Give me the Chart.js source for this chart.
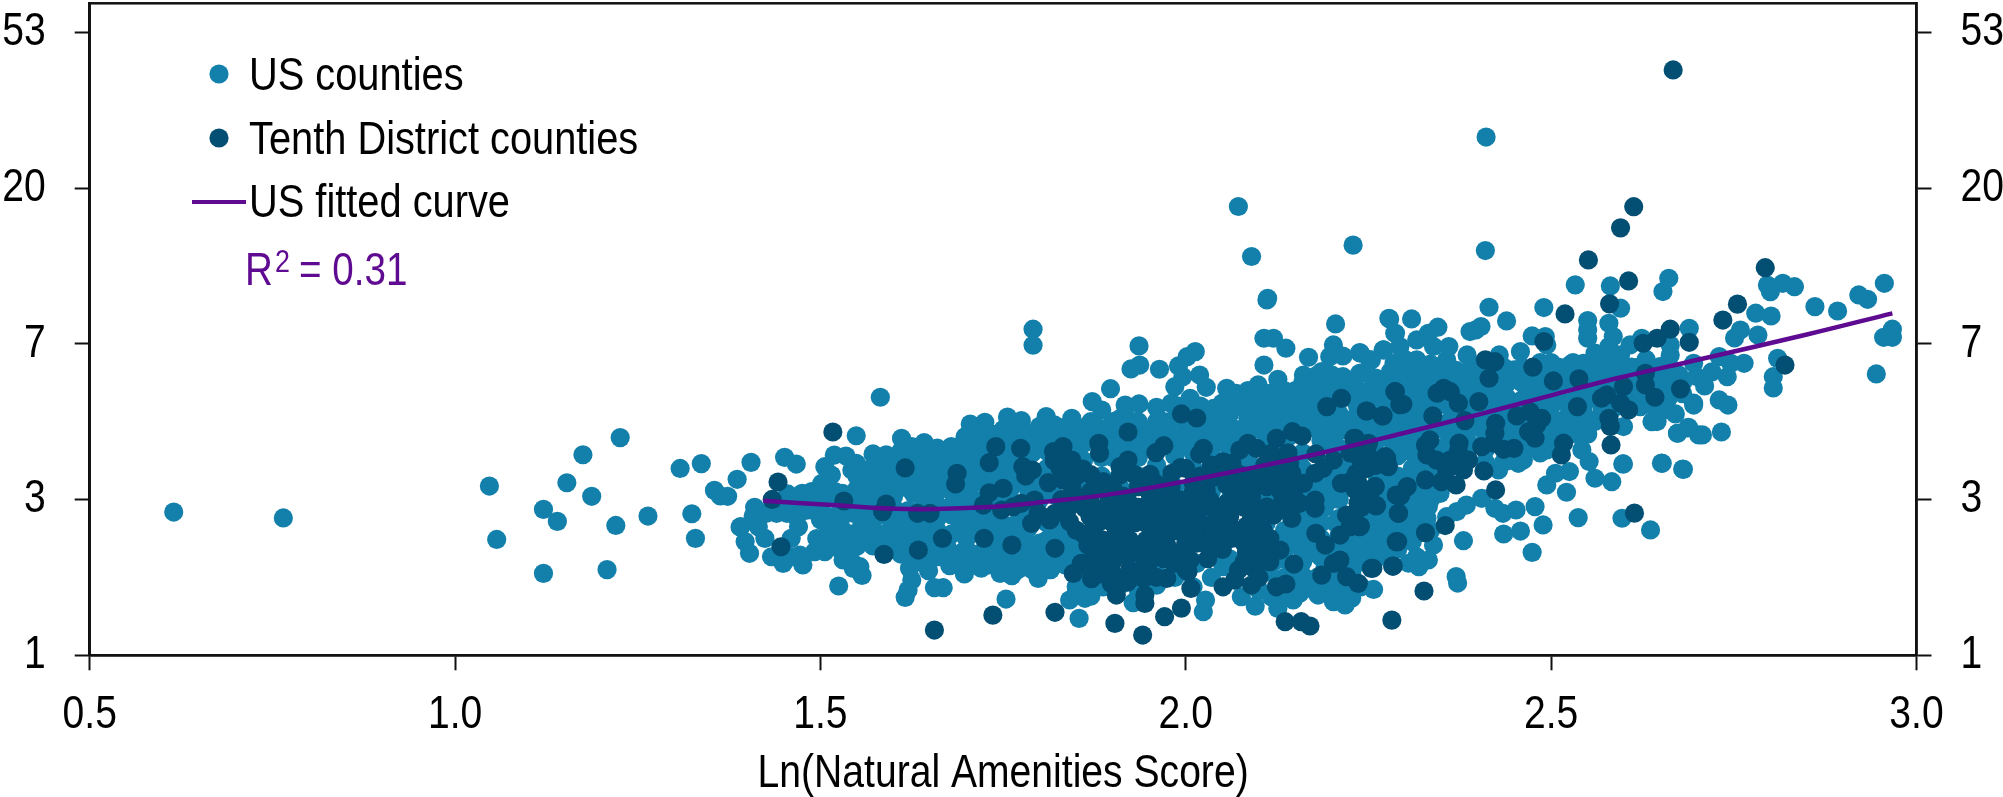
<!DOCTYPE html>
<html><head><meta charset="utf-8">
<style>html,body{margin:0;padding:0;background:#fff}#w{width:2003px;height:797px}</style>
<script src="https://cdn.jsdelivr.net/npm/chart.js@4"></script>
</head><body><div id="w"><canvas id="c" width="2003" height="797"></canvas></div>
<script>
const xTicks = [0.5,1.0,1.5,2.0,2.5,3.0];
const yTickValues = [0,1,2,3,4];
const yTickLabels = ['1','3','7','20','53'];
const xTitle = 'Ln(Natural Amenities Score)';
const seriesNames = ['US counties','Tenth District counties','US fitted curve'];
const fittedCurve = [[1.422,.993],[1.517,.965],[1.618,.939],[1.723,.950],[1.814,.989],[1.905,1.040],[1.996,1.115],[2.088,1.201],[2.179,1.293],[2.293,1.421],[2.407,1.554],[2.499,1.668],[2.590,1.779],[2.704,1.901],[2.85,2.06],[2.967,2.196]];
const usCounties = [
[.615,.920],[.765,.882],[1.047,1.087],[1.057,.744],[1.121,.937],[1.140,.860],[1.153,1.108],[1.175,1.288],[1.187,1.021],[1.226,1.398],[1.220,.834],[1.121,.526],[1.208,.550],[1.264,.894],[1.308,1.200],[1.337,1.231],[1.324,.909],[1.329,.751],[1.355,1.059],[1.363,1.023],[1.373,1.021],[1.386,1.130],[1.405,1.239],[1.390,.824],
[1.451,1.271],[1.467,1.228],[1.455,1.036],[1.408,.894],[1.391,.826],[1.397,.730],[1.403,.655],[1.424,.751],[1.415,.826],[1.433,.633],[1.449,.590],[1.472,.644],[1.476,.580],[1.463,.633],[1.460,.751],[1.470,.826],[1.440,.912],[1.426,.912],[1.454,.912],[1.467,.890],[1.488,.933],[1.488,1.051],[1.502,1.104],[1.506,1.211],[1.519,1.286],[1.535,1.280],[1.515,1.158],[1.520,1.051],[1.543,1.190],[1.549,1.233],[1.572,1.293],[1.590,1.288],[1.579,1.233],[1.563,1.190],[1.554,1.126],[1.572,1.083],[1.581,1.061],[1.600,1.147],[1.549,1.019],[1.563,.997],[1.540,.976],[1.513,1.019],[1.517,.890],[1.511,.826],[1.508,.740],[1.492,.665],[1.506,.665],[1.522,.783],[1.533,.719],[1.527,.84],[1.545,.912],[1.556,.826],[1.568,.890],[1.531,.612],[1.543,.601],[1.554,.569],[1.557,.513],[1.545,.558],[1.525,.445],[1.572,.702],[1.588,.783],[1.604,.783],[1.609,.847],[1.595,.890],[1.604,.676],[1.618,.676],[1.592,.72],[1.622,.558],[1.625,.483],[1.620,.419],[1.616,.372],[1.648,.543],[1.656,.434],[1.668,.434],[1.661,.633],[1.677,.575],[1.697,.522],[1.720,.560],[1.695,.665],[1.673,.698],[1.641,.869],
[1.611,1.393],[1.642,1.366],[1.625,1.340],[1.650,1.297],[1.622,1.254],[1.643,1.211],[1.632,1.126],[1.654,1.126],[1.627,1.040],[1.645,1.019],[1.663,1.083],[1.663,.954],[1.677,1.211],[1.679,1.340],[1.698,1.404],[1.705,1.485],[1.725,1.496],[1.723,1.425],[1.714,1.297],[1.700,1.211],[1.709,1.104],[1.686,1.0],[1.691,.826],[1.68,.90],[1.709,.804],[1.723,.912],[1.746,1.383],[1.756,1.530],[1.775,1.507],[1.762,1.383],[1.809,1.533],[1.791,1.425],[1.773,1.211],[1.746,1.126],[1.759,1.0],[1.732,.783],[1.746,.655],[1.746,.526],[1.762,.511],[1.778,.569],[1.798,.494],[1.791,.676],[1.754,.361],[1.582,1.657],[1.549,1.410],[1.791,2.094],[1.791,1.991],
[1.60,1.02],[1.615,1.08],[1.60,.95],[1.62,.93],[1.64,.95],[1.62,.82],[1.65,.80],[1.66,.72],[1.635,.74],[1.60,1.22],[1.66,1.2],[1.68,1.13],[1.70,1.29],[1.72,1.2],[1.73,1.05],[1.70,.95],[1.70,.87],[1.73,.70],[1.595,1.20],[1.61,1.31],[1.66,1.05],
[1.936,1.987],[1.925,1.839],[1.937,1.864],[1.964,1.837],[1.897,1.712],[1.872,1.629],[1.885,1.575],[1.917,1.607],[1.936,1.614],[1.960,1.592],[1.844,1.522],[1.882,1.458],[1.990,1.858],[2.002,1.918],[2.013,1.950],[2.019,1.800],[1.996,1.789],[1.985,1.725],[2.028,1.721],[2.006,1.650],[1.980,1.618],[2.056,1.715],[2.069,1.682],[2.038,1.586],[2.088,1.607],[2.107,1.864],[2.099,1.736],[2.126,1.772],[2.115,1.682],[2.107,2.036],[2.120,2.036],[2.137,1.972],[2.111,2.282],[2.205,2.128],[2.168,1.914],[2.161,1.800],[2.186,1.822],[2.202,1.993],[2.215,1.922],[2.197,1.918],[2.238,1.944],[2.278,2.164],[2.286,2.068],[2.270,1.961],[2.215,1.789],[2.238,1.811],[2.275,1.779],[2.254,1.897],
[1.841,.355],[1.862,.366],[1.854,.237],[1.928,.338],[2.027,.355],[2.024,.280],[2.076,.376],[2.095,.316],[2.126,.301],[2.117,.376],[2.147,.355],[2.156,.398],[2.181,.387],[2.202,.344],[2.218,.323],[2.227,.366],[2.257,.423],[2.195,.440],[2.161,.505],[2.225,.548],[2.270,.644],[2.247,.655],[2.051,.569],[2.015,.590],[2.113,.537],[1.887,.440],[1.869,.440],[1.850,.440],[1.965,.505],[1.823,.590],[1.835,.676],[2.257,.762],[2.234,.740],[2.170,.655],[2.147,.740],
[2.410,2.599],[2.533,2.379],[2.581,2.372],[2.661,2.421],[2.653,2.336],[2.595,2.229],[2.490,2.233],[2.415,2.235],[2.439,2.147],[2.279,2.160],[2.309,2.160],[2.287,2.068],[2.345,2.107],[2.332,2.068],[2.389,2.079],[2.404,2.111],[2.397,2.09],[2.550,2.150],[2.550,2.090],[2.550,2.036],[2.579,2.132],[2.585,2.047],[2.689,2.100],[2.663,1.993],[2.663,1.929],[2.624,2.036],[2.474,2.051],[2.492,2.047],[2.458,1.950],[2.429,1.929],[2.494,1.993],[2.526,1.865],[2.560,1.940],[2.579,1.983],[2.595,1.929],[2.608,1.993],[2.449,1.833],[2.508,1.811],[2.544,1.875],[2.572,1.833],[2.608,1.790],[2.658,1.747],[2.649,1.854],[2.695,1.875],[2.699,1.790],[2.695,1.619],[2.654,1.576],[2.645,1.501],[2.673,1.426],[2.688,1.464],[2.702,1.415],[2.622,1.597],[2.599,1.469],[2.560,1.501],[2.583,1.576],[2.522,1.469],[2.526,1.533],[2.544,1.597],[2.499,1.533],[2.503,1.63],[2.494,1.319],[2.503,1.362],[2.542,1.319],[2.552,1.244],[2.525,1.180],[2.506,1.169],[2.494,1.094],[2.560,1.137],[2.583,1.115],[2.599,1.229],[2.652,1.233],[2.681,1.194],[2.521,1.047],[2.537,.884],[2.597,.880],[2.636,.805],[2.478,.955],[2.489,.837],[2.474,.661],[2.458,.798],[2.435,.779],[2.452,.933],[2.434,.912],[2.423,.944],[2.405,1.008],[2.384,.965],[2.371,.923],[2.357,.890],[2.380,.736],[2.339,.708],[2.316,.633],[2.305,.591],[2.332,.612],[2.319,.569],[2.370,.505],[2.372,.464],[2.271,.655],[2.248,.655],[2.257,.741],[2.227,.526],[2.455,1.233],[2.462,1.254],[2.428,1.190],[2.332,.955],[2.305,.890],[2.271,.848],[2.348,1.040],
[2.239,1.940],[2.271,1.961],[2.252,1.897],[2.293,1.983],[2.316,2.025],[2.339,1.983],[2.360,1.983],[2.385,1.929],[2.357,1.897],[2.316,1.897],[2.285,1.875],[2.243,1.815],[2.389,1.811],[2.372,1.772],
[2.072,2.882],[2.090,2.561],[2.229,2.634],[2.112,2.293],[2.411,3.328],
[2.956,2.389],[2.921,2.314],[2.933,2.286],[2.892,2.211],[2.861,2.239],[2.833,2.367],[2.817,2.389],[2.796,2.378],[2.800,2.335],[2.780,2.197],[2.801,2.179],[2.759,2.089],[2.751,2.038],[2.783,2.057],[2.967,2.094],[2.967,2.042],[2.955,2.042],[2.945,1.807],[2.810,1.907],[2.804,1.789],[2.804,1.717],[2.764,1.875],[2.746,1.875],[2.730,1.918],[2.741,1.789],[2.733,1.434],[2.707,1.415],[2.687,1.460],[2.673,1.426],[2.651,1.234],[2.680,1.196],[2.598,1.229],[2.638,1.500],[2.646,1.555],[2.695,1.607],[2.742,1.607],[2.73,1.64],[2.71,1.73],[2.68,1.68],[2.72,1.82],
[1.735,.62],[1.735,.85],[1.735,.98],[1.735,1.08],[1.735,1.3],[1.735,1.42],[1.76,.72],[1.76,.83],[1.76,1.07],[1.76,1.28],[1.785,.72],[1.785,.82],[1.785,.94],[1.785,1.06],[1.785,1.28],[1.785,1.36],[1.81,.62],[1.81,.74],[1.81,.85],[1.81,1.08],[1.81,1.2],[1.81,1.31],[1.81,1.43],[1.835,.58],[1.835,.82],[1.835,.93],[1.835,1.17],[1.835,1.28],[1.835,1.42],[1.86,.45],[1.86,.55],[1.86,.66],[1.86,1.02],[1.86,1.13],[1.86,1.25],[1.86,1.36],[1.86,1.46],[1.885,.55],[1.885,.67],[1.885,.92],[1.885,1.15],[1.885,1.27],[1.885,1.38],[1.91,.45],[1.91,.95],[1.91,1.08],[1.91,1.31],[1.91,1.42],[1.91,1.52],[1.935,.42],[1.935,.55],[1.935,.95],[1.935,1.15],[1.935,1.27],[1.935,1.38],[1.935,1.5],[1.96,.45],[1.96,.6],[1.96,.95],[1.96,1.12],[1.96,1.22],[1.96,1.4],[1.96,1.5],[1.985,.5],[1.985,.95],[1.985,1.08],[1.985,1.28],[1.985,1.4],[1.985,1.52],[2.01,.44],[2.01,.72],[2.01,.95],[2.01,1.2],[2.01,1.3],[2.01,1.42],[2.01,1.54],[2.035,.5],[2.035,.65],[2.035,.9],[2.035,1.05],[2.035,1.32],[2.035,1.42],[2.035,1.5],[2.06,.62],[2.06,.82],[2.06,1.0],[2.06,1.15],[2.06,1.32],[2.06,1.42],[2.06,1.55],[2.06,1.63],[2.085,.62],[2.085,.82],[2.085,.95],[2.085,1.16],[2.085,1.26],[2.085,1.42],[2.085,1.52],[2.085,1.7],[2.11,.68],[2.11,.85],[2.11,1.03],[2.11,1.14],[2.11,1.42],[2.11,1.53],[2.11,1.62],[2.135,.5],[2.135,.62],[2.135,.8],[2.135,.94],[2.135,1.03],[2.135,1.3],[2.135,1.5],[2.135,1.6],[2.135,1.7],[2.16,.45],[2.16,.6],[2.16,.72],[2.16,.85],[2.16,1.03],[2.16,1.2],[2.16,1.3],[2.16,1.55],[2.16,1.65],[2.16,1.75],[2.185,.48],[2.185,.63],[2.185,.85],[2.185,1.07],[2.185,1.38],[2.185,1.48],[2.185,1.7],[2.21,.46],[2.21,.63],[2.21,.88],[2.21,1.0],[2.21,1.2],[2.21,1.33],[2.21,1.44],[2.21,1.55],[2.21,1.72],[2.235,.64],[2.235,.85],[2.235,1.05],[2.235,1.47],[2.235,1.6],[2.235,1.7],[2.26,.7],[2.26,.85],[2.26,1.02],[2.26,1.17],[2.26,1.3],[2.26,1.42],[2.26,1.65],[2.26,1.78],[2.285,.7],[2.285,.83],[2.285,1.0],[2.285,1.12],[2.285,1.33],[2.285,1.47],[2.285,1.6],[2.285,1.78],[2.31,.73],[2.31,.95],[2.31,1.2],[2.31,1.3],[2.31,1.45],[2.31,1.72],[2.31,1.82],[2.335,.8],[2.335,1.0],[2.335,1.2],[2.335,1.47],[2.335,1.63],[2.335,1.75],[2.335,1.87],[2.36,1.36],[2.36,1.5],[2.36,1.6],[2.36,1.8],[2.385,1.35],[2.385,1.43],[2.385,1.55],[2.385,1.72],[2.385,1.82],[2.41,1.24],[2.41,1.42],[2.41,1.55],[2.41,1.65],[2.41,1.75],[2.41,1.85],[2.435,1.24],[2.435,1.4],[2.435,1.6],[2.435,1.7],[2.435,1.85],[2.46,1.42],[2.46,1.64],[2.46,1.75],[2.46,1.85],[2.485,1.3],[2.485,1.42],[2.485,1.65],[2.485,1.75],[2.485,1.88],[2.51,1.46],[2.51,1.72],[2.51,1.85],[2.535,1.42],[2.535,1.68],[2.535,1.8],[2.56,1.65],[2.56,1.75],[2.56,1.85],[2.585,1.63],[2.585,1.72],[2.585,1.8],[2.61,1.68],[2.61,1.85],[2.63,1.69],[2.63,1.8],[2.63,1.9],[2.655,1.66],[2.675,1.8],
[1.48,1.0],[1.5,.95],[1.5,.87],[1.53,.92],[1.55,1.07],[1.56,.95],[1.58,1.0],[1.58,.9],[1.58,1.15],[1.6,1.08],[1.52,.7],[1.54,.78],[1.56,.75],[1.41,.95],[1.44,.96],[1.47,.98],[1.455,1.0],[1.5,1.0],[1.475,1.04],[1.55,1.15],[1.61,.65],[1.63,.6],[1.65,.65],[1.68,.65],[1.69,.58],[1.62,1.15],[1.64,1.08],[1.66,1.15],[1.64,1.28],[1.66,1.33],[1.675,1.27],[1.69,1.34],[1.7,1.15],[1.715,1.38],[1.7,1.05],[1.72,1.13],[1.74,1.2],[1.75,1.28],[1.75,1.45],[1.73,1.35],[1.68,1.05],[1.66,.88],[1.63,.85],[1.68,.96],[1.71,1.0],[1.74,.9],[1.72,.85],[1.7,.75],[1.75,.8],[1.745,.72],[1.77,.75],[1.77,.85],[1.77,.65],[1.79,.6],[1.8,.72],[1.815,.55],[1.82,.8],[1.8,.9],[1.8,1.0],[1.78,1.1],[1.8,1.13],[1.82,1.03],[1.79,1.3],[1.82,1.25],[1.8,1.4],[1.82,1.48],[1.84,1.38],[1.85,1.45],[1.87,1.5],[1.89,1.4],[1.9,1.5],[1.92,1.52],[1.925,1.33],[1.945,1.45],[1.97,1.5],[1.975,1.42],[2.0,1.48],[2.0,1.35],[1.99,1.6],[2.02,1.6],[2.05,1.55],[2.07,1.6],[2.09,1.55],[2.1,1.67],[2.13,1.65],[2.12,1.5],[2.15,1.7],[2.15,1.6],[2.17,1.7],[2.18,1.6],[2.2,1.7],[2.2,1.6],[2.19,1.75],[2.23,1.75],[2.25,1.7],[2.27,1.7],[2.3,1.75],[2.32,1.7],[2.3,1.9],[2.33,1.8],[2.35,1.75],[2.36,1.85],[2.38,1.75],[2.4,1.8],[2.42,1.7],[2.42,1.8],[2.44,1.75],[2.47,1.8],[2.47,1.7],[2.5,1.8],[2.52,1.75],[2.53,1.88],[2.55,1.8],[2.58,1.88],[2.6,1.78],[2.62,1.85],[2.64,1.74],[2.66,1.82],[2.68,1.75],[2.6,1.6],[2.62,1.7],[2.64,1.6],[2.66,1.65],[2.67,1.55],[2.57,1.58],[2.55,1.52],[2.53,1.6],[2.5,1.6],[2.48,1.58],[2.45,1.6],[2.44,1.5],[2.42,1.55],[2.39,1.6],[2.37,1.55],[2.35,1.45],[2.33,1.45],[2.31,1.55],[2.29,1.5],[2.27,1.4],[2.25,1.45],[2.22,1.5],[2.2,1.4],[2.18,1.45],[2.16,1.48],[2.14,1.4],[2.12,1.35],[2.3,.85],[2.32,.85],[2.3,.75],[2.27,.75],[2.25,.85],[2.25,.95],[2.27,.95],[2.3,1.0],[2.32,.95],[2.31,1.1],[2.33,1.1],[2.35,1.2],[2.37,1.25],[2.39,1.35],[2.41,1.32],[2.43,1.35],[2.45,1.38],[2.47,1.35],[2.44,1.25],[2.03,1.45],[2.05,1.5],[2.07,1.45],[2.1,1.45],[2.13,1.5],[2.15,1.53],[2.17,1.52],[2.19,1.55],[2.21,1.48],[2.23,1.52],[2.26,1.55],[2.28,1.55],[2.19,1.1],[2.2,1.0],[2.22,1.2],[2.2,1.13],[2.17,1.07],[2.19,.95],[2.205,.85],[2.185,.75],[2.165,.8],[2.25,.8],[2.27,1.15],[1.83,.75],[1.85,.72],[1.84,.65],[1.82,.7],[1.85,.4],[1.87,.38],[2.1,.42],[2.13,.38],[2.15,.43],[2.2,.43],[2.22,.4],[2.24,.44],[2.17,.43],[2.18,.5],[2.14,.5],[2.12,.6],[2.19,.55],[2.21,.52],[2.24,.6],[2.23,.68],
[1.48,.93],[1.5,1.08],[1.51,1.05],[1.53,1.04],[1.54,1.0],[1.55,.97],[1.57,.95],[1.59,1.05],[1.59,1.12],[1.6,.87],[1.57,.85],[1.57,.78],[1.55,.7],[1.53,.66],[1.51,.78],[1.53,.8],[1.495,.75],[1.6,.72],[1.62,.72],[1.64,.8],[1.65,.74],[1.61,.9],[1.64,.87],[1.66,.8],[1.68,.78],[1.7,.68],[1.72,.66],[1.71,.6],[1.73,.58],[1.755,.58],[1.77,.55],[1.79,.55],[1.81,.55],[1.62,1.19],[1.61,1.26],[1.63,1.3],[1.66,1.26],[1.68,1.2],[1.69,1.27],[1.7,1.35],[1.72,1.3],[1.73,1.15],[1.74,1.05],[1.76,1.15],[1.75,1.22],[1.78,1.25],[1.76,1.34],[1.78,1.4],[1.77,1.45],[1.8,1.47],[1.82,1.4],[1.83,1.46],[1.84,1.3],[1.85,1.35],[1.87,1.42],[1.89,1.33],[1.9,1.27],[1.91,1.37],[1.93,1.44],[1.95,1.35],[1.96,1.44],[1.98,1.35],[2.0,1.42],[2.02,1.38],[2.04,1.38],[2.03,1.54],[2.05,1.42],[2.07,1.37],[2.09,1.47],[2.11,1.5],[2.13,1.44],[2.15,1.47],[2.17,1.46],[2.2,1.5],[2.2,1.35],[2.29,1.36],[2.31,1.38],[2.35,1.33],[2.36,1.28],[2.32,1.24],[2.29,1.28],[2.25,1.5],[2.27,1.48],[2.29,1.44],[2.32,1.5],[2.34,1.5],[2.36,1.44],[2.38,1.48],[2.4,1.47],[2.42,1.45],[2.44,1.42],[2.46,1.48],[2.48,1.45],[2.5,1.44],[2.52,1.52],[2.54,1.47],[2.55,1.42],[2.24,1.65],[2.26,1.6],[2.28,1.63],[2.3,1.65],[2.32,1.6],[2.34,1.58],[2.35,1.65],[2.37,1.68],[2.38,1.65],[2.4,1.7],[2.42,1.62],[2.44,1.65],[2.46,1.58],[2.47,1.63],[2.49,1.7],[2.51,1.65],[2.52,1.62],[2.54,1.7],[2.55,1.65],[2.57,1.7],[2.59,1.66],[2.61,1.62],[2.64,1.66],[2.66,1.74],[2.28,1.82],[2.3,1.83],[2.32,1.78],[2.34,1.83],[2.37,1.83],[2.4,1.86],[2.42,1.88],[2.44,1.82],[2.46,1.8],[2.48,1.82],[2.5,1.88],[2.52,1.82],[2.54,1.83],[2.56,1.8],[2.58,1.77],[2.6,1.85],[2.62,1.78],[2.64,1.82],[2.66,1.88],[1.99,1.52],[2.02,1.5],[2.05,1.62],[2.08,1.62],[2.06,1.67],[2.12,1.58],[2.14,1.56],[2.17,1.6],[2.18,1.68],[2.2,1.8],[2.22,1.66],[2.24,1.58],[2.18,1.8],[2.17,1.15],[2.19,1.0],[2.21,1.08],[2.27,1.08],[2.29,1.15],[2.31,1.03],[2.33,1.03],[2.31,.8],[2.33,.88],[2.28,.9],[2.3,.93],[2.27,.8],[2.29,.68],[2.26,.62],[2.24,.72],[2.22,.7],[2.2,.7],[2.19,.65],[2.17,.73],[2.16,.67],[2.14,.7],[2.13,.75],[2.16,.9],[2.17,.87],[2.15,.85],[2.14,.78],[2.21,.77]
];
const tenthDistrict = [
[1.517,1.434],[1.442,1.113],[1.434,1.001],[1.446,.697],[1.532,.991],[1.590,.971],[1.585,.922],[1.587,.648],[1.616,1.203],[1.633,.912],[1.650,.912],[1.634,.676],[1.667,.751],[1.687,1.169],[1.685,1.100],[1.724,.751],[1.762,.708],[1.740,1.340],[1.731,1.237],[1.774,1.329],[1.777,1.211],[1.790,1.190],[1.781,1.151],[1.731,1.044],[1.750,1.072],[1.723,.965],[1.748,.933],[1.764,.954],[1.775,.976],[1.793,.997],[1.812,1.109],[1.798,.912],[1.789,.847],[1.814,.869],[1.736,.258],[1.656,.162],[1.821,.687],[1.821,.276],
[1.903,.205],[1.941,.130],[1.971,.248],[1.994,.303],[1.944,.333],[1.944,.387],[1.905,.387],[2.136,.216],[2.158,.216],[2.170,.188],[2.282,.226],[1.994,1.550],[2.015,1.524],[1.921,1.434],[1.881,1.361],[1.882,1.297],[1.832,1.340],[1.819,1.308],[1.844,1.254],[1.859,1.196],[1.921,1.254],[1.910,1.211],[1.910,1.158],[1.970,1.346],[1.959,1.301],[1.951,1.162],[1.981,1.169],[1.993,1.205],[1.935,1.083],[1.887,1.115],[1.870,1.051],[1.894,1.029],[1.914,1.023],[1.828,1.201],[1.832,1.126],[1.844,1.083],[2.024,1.329],[2.019,1.291],[2.035,1.222],[2.051,1.243],[2.063,1.233],[2.085,1.361],[2.074,1.318],[2.097,1.329],[2.124,1.393],[2.146,1.436],[2.159,1.408],[2.117,1.297],[2.108,1.222],[2.142,1.233],[2.145,1.169],[2.178,1.293],[2.202,1.254],[2.188,1.201],[2.177,1.169],[2.230,1.393],[2.250,1.361],[2.234,1.286],[2.245,1.233],[2.234,1.169],[2.275,1.265],[2.277,1.211],[2.213,1.104],[2.225,1.115],[2.259,1.083],[2.236,.976],[2.260,.961],[2.247,1.061],[2.288,1.029],[2.291,.912],[2.288,.730],[2.220,.901],[2.238,.826],[2.211,.772],[2.178,.783],[2.191,.708],[2.145,.879],[2.177,.944],[2.177,.997],[2.161,1.104],[2.147,1.061],[2.133,1.104],[2.156,.976],[2.124,1.169],[2.111,1.083],[2.090,1.094],[2.069,1.061],[2.056,1.094],[2.042,1.147],[2.010,1.104],[2.028,1.061],[1.994,.997],[1.974,1.029],[1.951,1.040],[2.010,.997],[2.033,.997],[2.056,.976],[2.092,.954],[2.111,.954],[2.133,.997],[2.097,.890],[2.060,.890],[2.106,.804],[2.083,.83],[2.115,.751],[2.129,.676],[2.111,.697],[2.083,.665],[2.115,.601],[2.148,.586],[2.090,.740],[2.063,.751],[2.033,.783],[2.038,.697],[2.026,.719],[2.008,.794],[2.010,.890],[1.996,.912],[1.976,.847],[2.0,.85],[1.957,.922],[1.946,.847],[1.923,.912],[1.917,.847],[1.862,.944],[1.882,.858],[1.869,.890],[1.850,.804],[1.866,.708],[1.821,.912],[1.841,.858],[1.846,.526],[1.857,.591],[1.871,.492],[1.889,.601],[1.901,.515],[1.898,.462],[1.887,.740],[1.873,.804],[1.905,.783],[1.901,.665],[1.923,.740],[1.919,.633],[1.923,.548],[1.942,.494],[1.942,.633],[1.946,.740],[1.960,.676],[1.969,.783],[1.974,.708],[1.987,.655],[1.974,.494],[1.983,.590],[2.006,.612],[2.003,.537],[2.007,.430],[2.051,.440],[2.067,.483],[2.072,.548],[2.090,.569],[2.090,.451],[2.124,.440],[2.137,.458],[2.186,.515],[2.202,.590],[2.211,.612],[2.220,.505],[2.236,.462],[2.254,.558],[2.283,.573],[2.193,1.597],[2.213,1.650],[2.247,1.569],[2.269,1.537],[2.286,1.693],[2.293,1.61],
[2.667,3.759],[2.613,2.881],[2.595,2.745],[2.551,2.539],[2.606,2.404],[2.580,2.257],[2.519,2.192],[2.490,2.015],[2.663,2.094],[2.645,2.036],[2.626,2.004],[2.689,2.010],[2.410,1.897],[2.423,1.886],[2.415,1.779],[2.475,1.850],[2.503,1.762],[2.538,1.775],[2.629,1.811],[2.629,1.736],[2.642,1.657],[2.677,1.711],[2.599,1.726],[2.576,1.672],[2.569,1.651],[2.595,1.619],[2.606,1.576],[2.536,1.597],[2.579,1.522],[2.581,1.469],[2.582,1.351],[2.517,1.362],[2.514,1.287],[2.382,1.507],[2.401,1.629],[2.373,1.619],[2.362,1.693],[2.353,1.715],[2.344,1.683],[2.287,1.693],[2.297,1.612],[2.248,1.569],[2.270,1.539],[2.338,1.537],[2.453,1.537],[2.471,1.565],[2.487,1.522],[2.480,1.479],[2.469,1.436],[2.478,1.394],[2.424,1.490],[2.423,1.426],[2.421,1.362],[2.405,1.340],[2.435,1.323],[2.449,1.329],[2.334,1.383],[2.328,1.351],[2.330,1.287],[2.343,1.254],[2.374,1.362],[2.373,1.308],[2.387,1.254],[2.362,1.254],[2.380,1.190],[2.357,1.190],[2.408,1.184],[2.424,1.062],[2.328,1.126],[2.350,1.115],[2.370,1.094],[2.303,1.083],[2.294,1.025],[2.291,.912],[2.355,.833],[2.328,.788],[2.290,.730],[2.284,.573],[2.256,.559],[2.239,.830],[2.261,.961],[2.259,1.083],[2.277,1.216],[2.273,1.276],[2.232,1.394],[2.248,1.340],[2.248,1.201],[2.234,1.169],[2.232,1.062],[2.236,.976],[2.225,.826],[2.755,2.255],[2.735,2.153],[2.820,1.864],[2.793,2.489],[2.326,.413],[2.614,.913],
[1.89,.95],[1.91,.92],[1.935,.95],[1.93,.85],[1.955,.78],[1.96,.85],[1.98,.92],[1.985,.8],[2.0,.72],[2.015,.72],[2.02,.85],[2.04,.85],[2.05,.8],[2.07,.8],[2.08,.72],[2.1,.65],[2.05,.68],[2.03,.62],[2.0,.65],[1.97,.62],[1.95,.6],[1.93,.68],[1.91,.7],[1.89,.68],[1.875,.65],[1.86,.78],[1.9,.85],[1.84,.95],[1.83,1.0],[1.85,1.02],[1.87,.98],[1.9,1.0],[1.92,1.0],[1.95,.98],[1.97,.95],[2.02,.95],[2.04,.93],[2.08,.95],[2.07,1.0],[2.09,1.02],[2.13,1.05],[2.14,.95],[2.15,1.0],[2.12,.9],[2.09,.88],[2.06,.95],[2.1,1.15],[2.08,1.15],[2.05,1.15],[2.02,1.15],[2.01,1.05],[2.03,1.12],[2.0,1.2],[2.12,1.25],[2.14,1.3],[2.07,1.17],[1.98,1.08],[1.96,1.1],[1.93,1.16],[1.9,1.08],[1.87,1.16],[1.85,1.15],[1.84,1.2],[1.82,1.25],[2.0,.55],[1.96,.5],[1.94,.55],[1.92,.47],[1.88,.52],[1.87,.55],[1.9,.6],[2.08,.6],[2.1,.5],[2.1,.6],[2.24,1.25],[2.235,1.12],[2.245,1.05],[2.24,.95],[2.23,.9],[2.25,1.28],[2.26,1.22],[2.225,1.3]
];
const LIGHT='#1380AB', DARK='#034F73', PURPLE='#5E0A91';
const FONT='"Liberation Sans",Arial,sans-serif';
let narrow=0.85;
const rawFill=CanvasRenderingContext2D.prototype.fillText;
CanvasRenderingContext2D.prototype.fillText=function(t,x,y,m){this.save();this.translate(x,y);this.scale(narrow,1);rawFill.call(this,t,0,0);this.restore();};
const toPts=a=>a.map(p=>({x:p[0],y:p[1]}));
const chromeFix={id:'chromeFix',
 afterDraw(ch){const c=ch.ctx,a=ch.chartArea;c.save();
  c.strokeStyle='#111';c.lineWidth=2.5;c.strokeRect(a.left,a.top,a.right-a.left,a.bottom-a.top);
  c.fillStyle='#000';c.textBaseline='alphabetic';c.textAlign='left';c.font='46px '+FONT;
  narrow=0.865;
  c.fillText(seriesNames[0],249,90);c.fillText(seriesNames[1],249,153.5);c.fillText(seriesNames[2],249,216.7);
  narrow=0.84;
  c.fillStyle=LIGHT;c.beginPath();c.arc(219,74,9.6,0,7);c.fill();
  c.fillStyle=DARK;c.beginPath();c.arc(219,138,9.6,0,7);c.fill();
  c.strokeStyle=PURPLE;c.lineWidth=4;c.beginPath();c.moveTo(192,202);c.lineTo(246,202);c.stroke();
  c.fillStyle=PURPLE;c.fillText('R',245,285);c.font='32px '+FONT;c.fillText('2',275,272);
  c.font='46px '+FONT;c.fillText('= 0.31',299,285);
  c.restore();}};
const zeroPad=s=>{s.paddingTop=s.paddingBottom=s.paddingLeft=s.paddingRight=0;};
new Chart(document.getElementById('c'),{type:'scatter',
 data:{datasets:[
  {label:seriesNames[2],data:toPts(fittedCurve),showLine:true,borderColor:PURPLE,borderWidth:4.5,pointRadius:0,tension:.4,order:0,fill:false},
  {label:seriesNames[1],data:toPts(tenthDistrict),backgroundColor:DARK,borderWidth:0,pointRadius:9.6,order:1},
  {label:seriesNames[0],data:toPts(usCounties),backgroundColor:LIGHT,borderWidth:0,pointRadius:9.6,order:2}
 ]},
 options:{responsive:false,animation:false,devicePixelRatio:1,
  layout:{autoPadding:false,padding:{top:3.3,left:0,right:0,bottom:0}},
  plugins:{legend:{display:false},tooltip:{enabled:false},title:{display:false}},
  scales:{
   x:{type:'linear',min:.5,max:3,
    afterBuildTicks(s){s.ticks=xTicks.map(v=>({value:v}));},
    afterFit(s){s.height=141.7;zeroPad(s);},
    grid:{drawOnChartArea:false,drawTicks:true,tickLength:15,tickColor:'#111',tickWidth:2},
    border:{display:true,color:'#111',width:2.5},
    ticks:{color:'#000',padding:17,font:{family:FONT,size:46},maxRotation:0,autoSkip:false,callback:v=>v.toFixed(1)},
    title:{display:true,text:xTitle,color:'#000',font:{family:FONT,size:46,lineHeight:1},padding:{top:0,bottom:0}}},
   y:{type:'linear',position:'left',min:0,max:4.187,
    afterBuildTicks(s){s.ticks=yTickValues.map(v=>({value:v}));},
    afterFit(s){s.width=89.7;zeroPad(s);},
    grid:{drawOnChartArea:false,drawTicks:true,tickLength:15,tickColor:'#111',tickWidth:2},
    border:{display:true,color:'#111',width:2.5},
    ticks:{color:'#000',padding:29,font:{family:FONT,size:46},autoSkip:false,callback:v=>yTickLabels[yTickValues.indexOf(v)]}},
   y2:{type:'linear',position:'right',min:0,max:4.187,
    afterBuildTicks(s){s.ticks=yTickValues.map(v=>({value:v}));},
    afterFit(s){s.width=86.5;zeroPad(s);},
    grid:{drawOnChartArea:false,drawTicks:true,tickLength:15,tickColor:'#111',tickWidth:2},
    border:{display:true,color:'#111',width:2.5},
    ticks:{color:'#000',padding:29,font:{family:FONT,size:46},autoSkip:false,callback:v=>yTickLabels[yTickValues.indexOf(v)]}}
  }},
 plugins:[chromeFix]});
</script></body></html>
